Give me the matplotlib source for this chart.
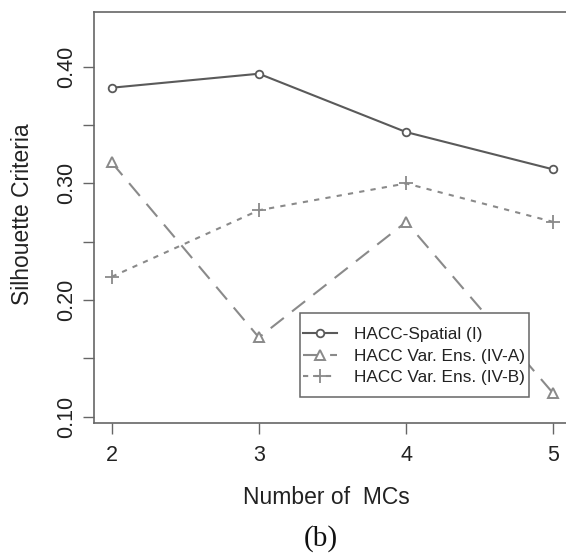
import matplotlib
matplotlib.use("Agg")
import matplotlib.pyplot as plt
from matplotlib.patches import Rectangle

plt.rcParams['font.family'] = ['Liberation Sans', 'DejaVu Sans']

mcs = [2, 3, 4, 5]
spatial = [0.382, 0.394, 0.344, 0.312]
ens_a = [0.318, 0.168, 0.267, 0.120]
ens_b = [0.220, 0.277, 0.300, 0.267]
labels = ["HACC-Spatial (I)", "HACC Var. Ens. (IV-A)", "HACC Var. Ens. (IV-B)"]
yticks = [0.10, 0.15, 0.20, 0.25, 0.30, 0.35, 0.40]
ylabels = ["0.10", "", "0.20", "", "0.30", "", "0.40"]

W, H = 566, 556
fig = plt.figure(figsize=(W / 100, H / 100), dpi=100)
L, R, T, B = 94, 571, 12, 423
AW, AH = R - L, B - T
ax = fig.add_axes([L / W, 1 - B / H, AW / W, AH / H])


def axx(px):
    return (px - L) / AW


def axy(py):
    return (B - py) / AH


c1 = '#5a5a5a'
c2 = '#8a8a8a'
ax.plot(mcs, spatial, color=c1, lw=1.5, marker='o', ms=5.5, mfc='white',
        mec=c1, mew=1.3, label=labels[0])
ax.plot(mcs, ens_a, color=c2, lw=1.5, ls=(0, (8, 5)), marker='^', ms=7,
        mfc='white', mec=c2, mew=1.4, label=labels[1])
ax.plot(mcs, ens_b, color=c2, lw=1.5, ls=(0, (2.5, 3)), marker='+', ms=10,
        mec=c2, mew=1.3, label=labels[2])

ax.set_xlim(1.88, 5.12)
ax.set_ylim(0.0947, 0.4469)
ax.set_xticks(mcs)
ax.set_xticklabels([str(m) for m in mcs])
ax.set_yticks(yticks)
ax.set_yticklabels(ylabels, rotation=90, va='center')

for s in ax.spines.values():
    s.set_color('#666666')
    s.set_linewidth(1.2)
ax.tick_params(axis='both', length=8, width=1.0, color='#666666',
               labelsize=15.5, labelcolor='#222222')
ax.tick_params(axis='x', pad=8)
ax.tick_params(axis='y', pad=4.5)

ax.set_xlabel("Number of  MCs", fontsize=16.5, color='#222222')
ax.set_ylabel("Silhouette Criteria", fontsize=16.5, color='#222222')
ax.xaxis.label.set_va('center')
ax.yaxis.label.set_va('center')
ax.xaxis.set_label_coords(axx(326), axy(497))
ax.yaxis.set_label_coords(axx(23), axy(214))

leg = ax.legend(loc='center left', bbox_to_anchor=(axx(303), axy(356)),
                fontsize=12.4, frameon=False, handlelength=2.0,
                handletextpad=0.95, borderpad=0, labelspacing=0.36,
                borderaxespad=0)
for t in leg.get_texts():
    t.set_color('#222222')
ax.add_patch(Rectangle((axx(300), axy(397)), axx(529) - axx(300),
                       axy(313) - axy(397), transform=ax.transAxes,
                       fill=True, facecolor='white', edgecolor='#666666',
                       lw=1.1, zorder=4.9))
leg.set_zorder(5)

fig.text(321 / W, 1 - 546 / H, "(b)", family='Liberation Serif', fontsize=21,
         ha='center', va='baseline', color='#111111')

fig.savefig("out.png", dpi=100)
